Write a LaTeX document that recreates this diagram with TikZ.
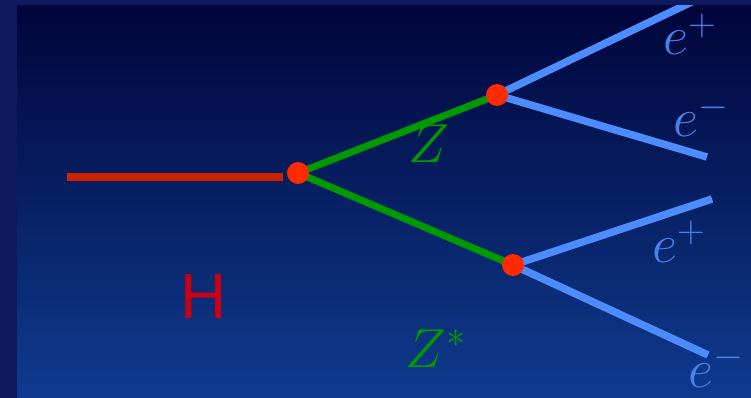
\RequirePackage{fix-cm}
\documentclass[tikz,border=0pt]{standalone}
\usepackage{fontspec}
\newfontfamily\hfont{Liberation Sans}
\definecolor{frame}{HTML}{0D1A5E}
\definecolor{bgtop}{HTML}{00053A}
\definecolor{bgbot}{HTML}{0F3B8E}
\definecolor{hred}{HTML}{CC2200}
\definecolor{dotred}{HTML}{FF2A00}
\definecolor{zgreen}{HTML}{009A00}
\definecolor{lepblue}{HTML}{4D8CFF}
\definecolor{lablue}{HTML}{4A80EA}
\definecolor{hlabel}{HTML}{CC0010}
\tikzset{
  vtx/.style={circle,fill=dotred,inner sep=0pt,minimum size=22pt},
  higgs/.style={hred,line width=7.5pt},
  boson/.style={zgreen,line width=7pt},
  lepton/.style={lepblue,line width=7.5pt},
  lab/.style={inner sep=0pt,anchor=base west,font=\fontsize{55}{60}\selectfont}
}
\begin{document}
\begin{tikzpicture}[x=1pt,y=-1pt]
\useasboundingbox (0,0) rectangle (751,398);
\fill[frame] (0,0) rectangle (751,398);
\shade[top color=bgtop,bottom color=bgbot] (17,6) rectangle (751,398);
% vertices and free ends
\coordinate (hstart) at (67,177);
\coordinate (hend) at (283,177);
\coordinate (v0) at (298,173);
\coordinate (v1) at (497,95);
\coordinate (v2) at (513,265);
\coordinate (ep1) at (700,-2);
\coordinate (em1) at (707,157);
\coordinate (ep2) at (712,199);
\coordinate (em2) at (708,355);
\begin{scope}
\clip (17,6) rectangle (751,398);
\draw[higgs] (hstart)--(hend);
\draw[boson] (v0)--(v1);
\draw[boson] (v0)--(v2);
\draw[lepton] (v1)--(ep1);
\draw[lepton] (v1)--(em1);
\draw[lepton] (v2)--(ep2);
\draw[lepton] (v2)--(em2);
\end{scope}
\node[vtx] (d0) at (v0) {};
\node[vtx] (d1) at (v1) {};
\node[vtx] (d2) at (v2) {};
% labels
\node[lab,text=lablue] (lep1) at (663,55) {$e^+$};
\node[lab,text=lablue] (lem1) at (673,137) {$e^-$};
\node[lab,text=lablue] (lep2) at (652,262) {$e^+$};
\node[lab,text=lablue] (lem2) at (688,387) {$e^-$};
\node[lab,text=zgreen] (lz) at (408,162) {$Z$};
\node[lab,text=zgreen] (lzs) at (405,367) {$Z^*$};
\node[inner sep=0pt,anchor=base west,text=hlabel,font=\hfont\fontsize{64}{70}\selectfont] (lh) at (180,318) {H};
\end{tikzpicture}
\end{document}
